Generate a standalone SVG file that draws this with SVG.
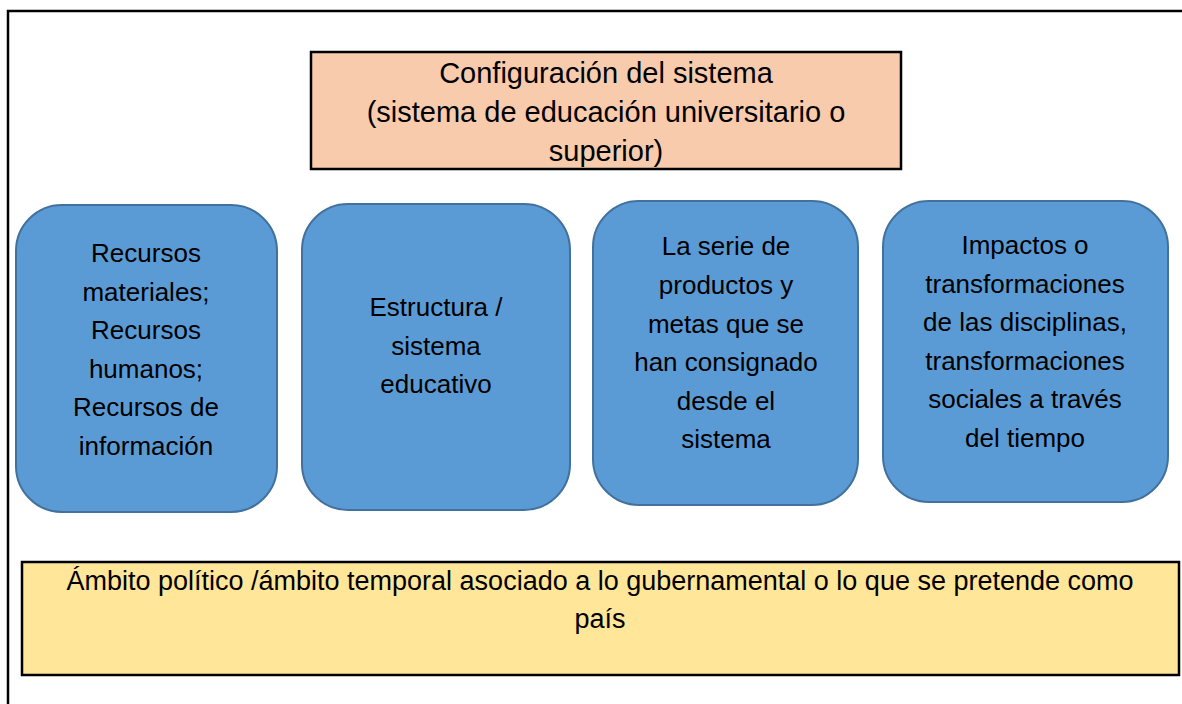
<svg xmlns="http://www.w3.org/2000/svg" width="1182" height="704" viewBox="0 0 1182 704">
<style>
text{font-family:"Liberation Sans",Arial,sans-serif;fill:#000;text-anchor:middle}
.t{font-size:29px}
.b{font-size:26px}
.y{font-size:27px}
.blue{fill:#5B9BD5;stroke:#41719C;stroke-width:2}
</style>
<rect width="1182" height="704" fill="#fff"/>
<g id="frame">
<path d="M8 704 V11 H1182" fill="none" stroke="#000" stroke-width="2.5"/>
</g>
<g id="config">
<rect x="311" y="52" width="590" height="117" fill="#F8CBAD" stroke="#000" stroke-width="2.5"/>
<text class="t" x="606" y="83">Configuración del sistema</text>
<text class="t" x="606" y="122">(sistema de educación universitario o</text>
<text class="t" x="606" y="161">superior)</text>
</g>
<g id="recursos">
<rect class="blue" x="16" y="205" width="261" height="307" rx="46"/>
<text class="b" x="146" y="262">Recursos</text>
<text class="b" x="146" y="300.5">materiales;</text>
<text class="b" x="146" y="339">Recursos</text>
<text class="b" x="146" y="377.5">humanos;</text>
<text class="b" x="146" y="416">Recursos de</text>
<text class="b" x="146" y="454.5">información</text>
</g>
<g id="estructura">
<rect class="blue" x="302" y="204" width="268" height="306" rx="46"/>
<text class="b" x="436" y="316">Estructura /</text>
<text class="b" x="436" y="354.5">sistema</text>
<text class="b" x="436" y="393">educativo</text>
</g>
<g id="productos">
<rect class="blue" x="593" y="201" width="265" height="304" rx="46"/>
<text class="b" x="726" y="255">La serie de</text>
<text class="b" x="726" y="294">productos y</text>
<text class="b" x="726" y="332.5">metas que se</text>
<text class="b" x="726" y="371">han consignado</text>
<text class="b" x="726" y="409.5">desde el</text>
<text class="b" x="726" y="448">sistema</text>
</g>
<g id="impactos">
<rect class="blue" x="883" y="201" width="285" height="301" rx="46"/>
<text class="b" x="1025" y="254">Impactos o</text>
<text class="b" x="1025" y="293">transformaciones</text>
<text class="b" x="1025" y="331">de las disciplinas,</text>
<text class="b" x="1025" y="370">transformaciones</text>
<text class="b" x="1025" y="408">sociales a través</text>
<text class="b" x="1025" y="447">del tiempo</text>
</g>
<g id="ambito">
<rect x="22" y="562" width="1157" height="113" fill="#FFE699" stroke="#000" stroke-width="2.5"/>
<text class="y" x="600" y="590">Ámbito político /ámbito temporal asociado a lo gubernamental o lo que se pretende como</text>
<text class="y" x="600" y="628">país</text>
</g>
<g id="connectors"/>
</svg>
